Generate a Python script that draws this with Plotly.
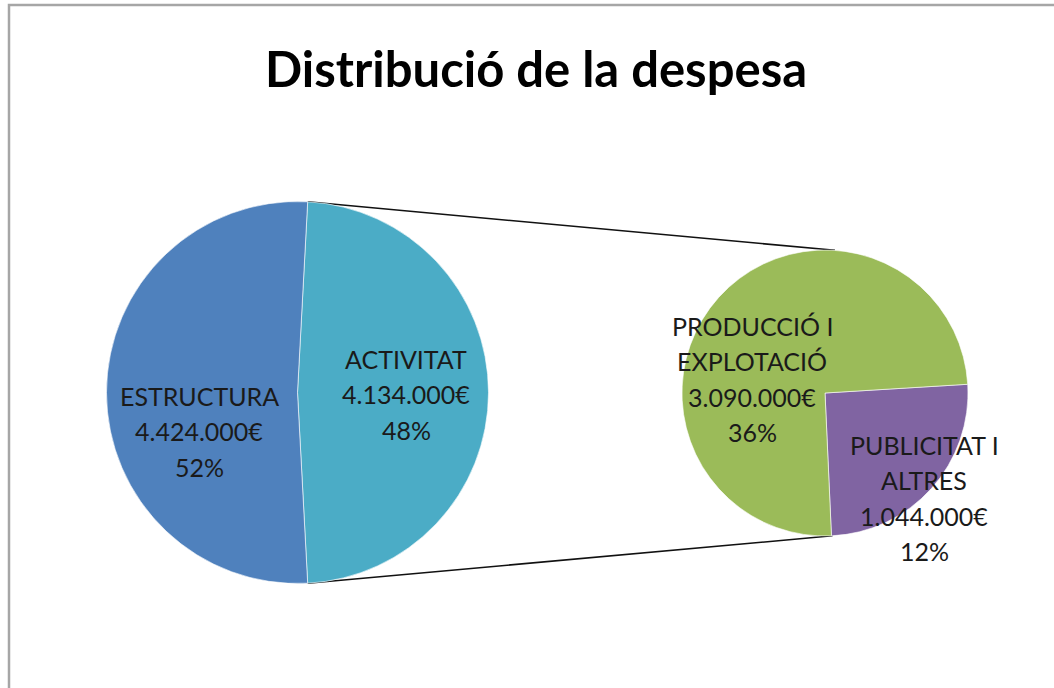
import math
import plotly.graph_objects as go

# ---- data ----
main_labels = ["ACTIVITAT", "ESTRUCTURA"]
main_values = [4134000, 4424000]
sub_labels = ["PUBLICITAT I<br>ALTRES", "PRODUCCIÓ I<br>EXPLOTACIÓ"]
sub_values = [1044000, 3090000]
main_colors = ["#4BACC6", "#4F81BD"]
sub_colors = ["#8064A2", "#9BBB59"]
title_text = "Distribució de la despesa"

W, H = 1054, 688
total = sum(main_values)


def fmt_eur(v):
    return f"{v:,}".replace(",", ".") + "€"


def pct(v):
    return f"{round(100 * v / total)}%"


# geometry (pixels)
cxL, cyL, rL = 297.5, 392.5, 191
cxR, cyR, rR = 825, 393, 143


def dom(cx, cy, r):
    return dict(x=[(cx - r) / W, (cx + r) / W], y=[1 - (cy + r) / H, 1 - (cy - r) / H])


split_angle = 360 * main_values[0] / total
rot_main = 90 - split_angle / 2
rot_sub = 86.5

fig = go.Figure()
fig.add_trace(go.Pie(
    labels=main_labels, values=main_values, sort=False, direction="clockwise",
    rotation=rot_main, domain=dom(cxL, cyL, rL), textinfo="none", hoverinfo="label+value",
    marker=dict(colors=main_colors, line=dict(color="rgba(255,255,255,0.6)", width=1)),
    showlegend=False,
))
fig.add_trace(go.Pie(
    labels=sub_labels, values=sub_values, sort=False, direction="clockwise",
    rotation=rot_sub, domain=dom(cxR, cyR, rR), textinfo="none", hoverinfo="label+value",
    marker=dict(colors=sub_colors, line=dict(color="rgba(255,255,255,0.6)", width=1)),
    showlegend=False,
))

# connector lines from split points of main pie to the secondary pie
def pt(cx, cy, r, ang):
    a = math.radians(ang)
    return cx + r * math.sin(a), cy - r * math.cos(a)

p1 = pt(cxL, cyL, rL, rot_main)
p2 = pt(cxL, cyL, rL, rot_main + split_angle)
q1 = pt(cxR, cyR, rR, 4)
q2 = pt(cxR, cyR, rR, 177)
shapes = []
for a, b in [(p1, q1), (p2, q2)]:
    shapes.append(dict(type="line", xref="paper", yref="paper",
                       x0=a[0] / W, y0=1 - a[1] / H, x1=b[0] / W, y1=1 - b[1] / H,
                       line=dict(color="#111111", width=1.5), layer="below"))
# chart border
shapes.append(dict(type="rect", xref="paper", yref="paper",
                   x0=9 / W, y0=-0.05, x1=1.05, y1=1 - 5 / H,
                   line=dict(color="#A6A6A6", width=2.5), fillcolor="rgba(0,0,0,0)"))

# data labels (one annotation per line, Excel-like line spacing)
label_pos = [
    (main_labels[0], main_values[0], 406, 394),
    (main_labels[1], main_values[1], 199, 431),
    (sub_labels[0], sub_values[0], 924, 498),
    (sub_labels[1], sub_values[1], 752, 379),
]
LINE = 35.5
annotations = []
for lab, val, x, y in label_pos:
    lines = lab.split("<br>") + [fmt_eur(val), pct(val)]
    n = len(lines)
    for i, ln in enumerate(lines):
        yy = y + (i - (n - 1) / 2) * LINE
        annotations.append(dict(
            text=ln, x=x / W, y=1 - yy / H,
            xref="paper", yref="paper", showarrow=False, xanchor="center", yanchor="middle",
            font=dict(family="Lato", size=25, color="#1a1a1a"),
        ))

fig.update_layout(
    width=W, height=H,
    margin=dict(l=0, r=0, t=0, b=0),
    paper_bgcolor="white", plot_bgcolor="white",
    title=dict(text=f"<b>{title_text}</b>", x=536 / W, xanchor="center",
               y=1 - 70 / H, yanchor="middle", yref="container",
               font=dict(family="Lato", size=49, color="#000000")),
    shapes=shapes, annotations=annotations,
)

fig.write_html("out.html", config={"displayModeBar": False},
               post_script="document.body.style.margin='0';document.body.style.overflow='hidden';")
